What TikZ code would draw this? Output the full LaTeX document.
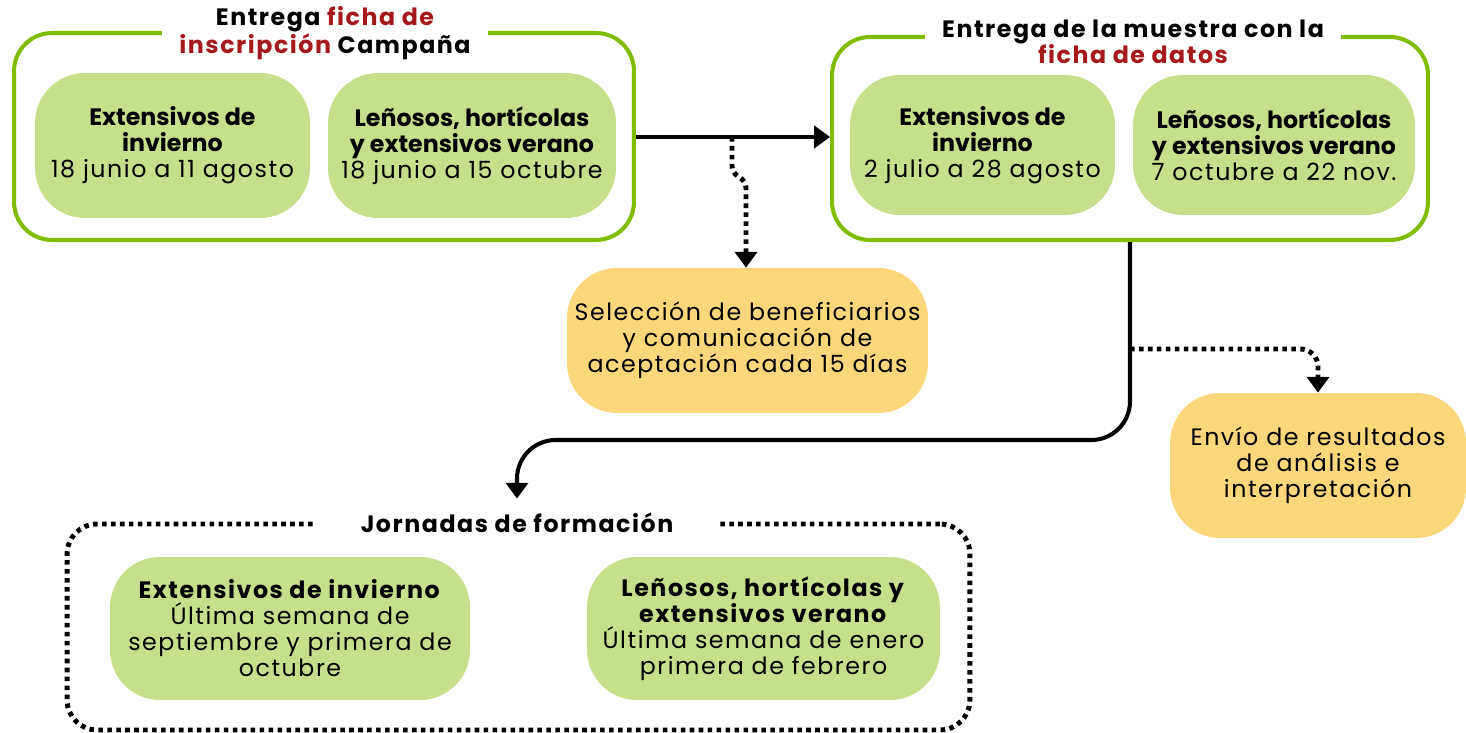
\documentclass[tikz,border=0pt]{standalone}
\usepackage{fontspec}
\setmainfont{Poppins}[LetterSpace=6.5]
\newfontfamily\apretada{Poppins}
\usepackage{xcolor}
\usepackage{tikz}
\usetikzlibrary{arrows.meta,positioning}
\definecolor{verde}{HTML}{80BC00}
\definecolor{pasto}{HTML}{C5DF8B}
\definecolor{ambar}{HTML}{FBD67B}
\definecolor{rojo}{HTML}{A3191C}
\newcommand{\fs}{\fontsize{13.5}{14.8}\selectfont}
\newcommand{\cab}[1]{{\apretada\bfseries #1}}
\tikzset{
  grupo/.style={draw=verde, line width=2.3pt, rounded corners=0.76cm},
  marco/.style={draw=black, line width=2.8pt, dash pattern=on 2.6pt off 2.5pt, rounded corners=0.6cm},
  caja/.style={fill=pasto, rounded corners=1cm, align=center, font=\fs},
  aviso/.style={fill=ambar, rounded corners=1cm, align=center, font=\fs},
  titulo/.style={fill=white, align=center, font=\fs\bfseries, inner ysep=1pt},
  flecha/.style={draw=black, line width=2.3pt, -{Triangle[width=12.5pt,length=9pt]}},
  puntos/.style={draw=black, line width=2.8pt, dash pattern=on 2.6pt off 2.5pt, -{Triangle[width=12.5pt,length=9pt]}},
}

\begin{document}
\begin{tikzpicture}[x=0.02cm, y=-0.02cm]
  \useasboundingbox (0,0) rectangle (1466,733);
  % grupo de inscripcion
  \node[grupo, minimum width=12.4cm, minimum height=4.14cm] (insc) at (324,136.5) {};
  \node[titulo, inner xsep=10pt] (tinsc) at (325,33)
    {Entrega \textcolor{rojo}{ficha de}\\\textcolor{rojo}{inscripción} Campaña};
  \node[caja, minimum width=5.5cm, minimum height=2.9cm] (invA) at (172.5,145.5)
    {\cab{Extensivos de}\\\cab{invierno}\\18 junio a 11 agosto};
  \node[caja, minimum width=5.76cm, minimum height=2.9cm] (verA) at (472,145.5)
    {\cab{Leñosos, hortícolas}\\\cab{y extensivos verano}\\18 junio a 15 octubre};
  % grupo de muestra
  \node[grupo, minimum width=11.92cm, minimum height=4.06cm] (muestra) at (1130,138.5) {};
  \node[titulo, inner xsep=10pt] (tmuestra) at (1133,42)
    {Entrega de la muestra con la\\\textcolor{rojo}{ficha de datos}};
  \node[caja, minimum width=5.3cm, minimum height=2.8cm] (invB) at (982.5,145)
    {\cab{Extensivos de}\\\cab{invierno}\\2 julio a 28 agosto};
  \node[caja, minimum width=5.64cm, minimum height=2.8cm] (verB) at (1274,145)
    {\cab{Leñosos, hortícolas}\\\cab{y extensivos verano}\\7 octubre a 22 nov.};
  % avisos
  \node[aviso, minimum width=7.22cm, minimum height=2.9cm] (selec) at (747.5,340.5)
    {Selección de beneficiarios\\y comunicación de\\aceptación cada 15 días};
  \node[aviso, minimum width=5.92cm, minimum height=2.9cm] (envio) at (1318,465.5)
    {Envío de resultados\\de análisis e\\interpretación};
  % jornadas
  \node[marco, minimum width=18.06cm, minimum height=4.12cm] (jorn) at (518.5,627) {};
  \node[titulo, inner xsep=26pt] (tjorn) at (517,523) {Jornadas de formación};
  \node[caja, minimum width=7.2cm, minimum height=2.86cm] (invC) at (290,628.5)
    {\textbf{Extensivos de invierno}\\Última semana de\\septiembre y primera de\\octubre};
  \node[caja, minimum width=7.06cm, minimum height=2.86cm] (verC) at (763.5,628.5)
    {\textbf{Leñosos, hortícolas y}\\\textbf{extensivos verano}\\Última semana de enero\\primera de febrero};
  % conectores
  \coordinate (cruce) at (732,137);
  \coordinate (bajada) at (muestra.south |- 0,349);
  \draw[flecha] (insc.east |- cruce) -- (cruce -| muestra.west);
  \draw[puntos, rounded corners=4] (cruce) -- ++(0,36) -- ++(14,8) -- (selec.north -| 746,0);
  \draw[flecha, rounded corners=22, shorten >=7pt] (muestra.south) -- ++(0,198) -| (tjorn.north);
  \draw[puntos, rounded corners=10] (bajada) -| (envio.north);
\end{tikzpicture}
\end{document}
